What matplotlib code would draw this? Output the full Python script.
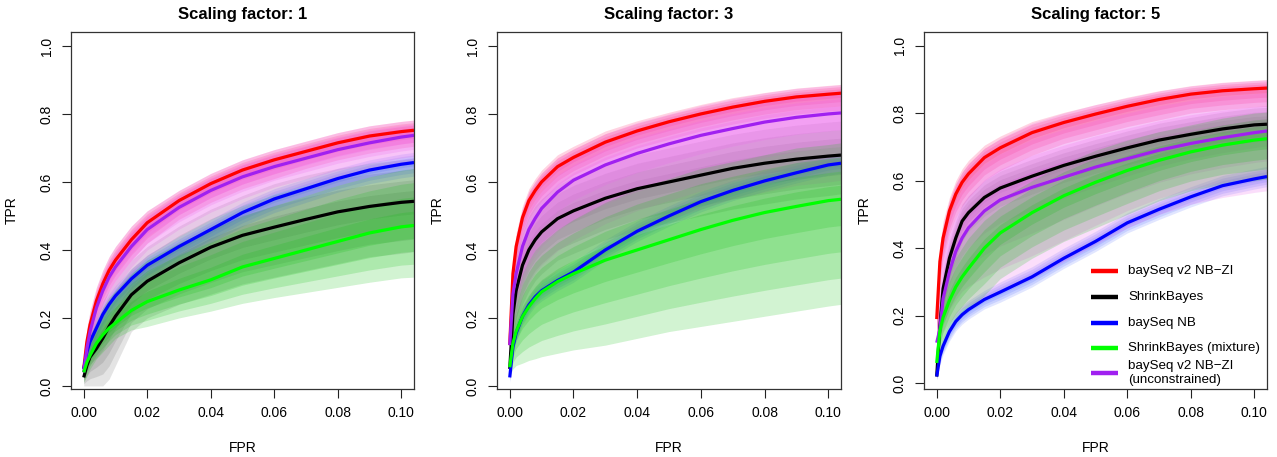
import matplotlib
matplotlib.use("Agg")
import matplotlib.pyplot as plt
import numpy as np

plt.rcParams['font.family'] = ['Liberation Sans', 'DejaVu Sans']

# ---------------- data ----------------
FPR = [0, 0.001, 0.002, 0.004, 0.006, 0.008, 0.01, 0.015, 0.02, 0.03, 0.04,
       0.05, 0.06, 0.07, 0.08, 0.09, 0.10, 0.104]

TITLES = ["Scaling factor: 1", "Scaling factor: 3", "Scaling factor: 5"]
LABELS = ["baySeq v2 NB\u2212ZI", "ShrinkBayes", "baySeq NB",
          "ShrinkBayes (mixture)", "baySeq v2 NB\u2212ZI\n(unconstrained)"]

# Panel 1 (scaling factor 1)
P1_RED = [0.05, 0.13, 0.18, 0.25, 0.30, 0.34, 0.37, 0.43, 0.48, 0.545, 0.595, 0.635, 0.665, 0.69, 0.715, 0.735, 0.748, 0.752]
P1_RED_LO = [0.03, 0.09, 0.13, 0.19, 0.24, 0.28, 0.31, 0.37, 0.42, 0.49, 0.54, 0.58, 0.61, 0.64, 0.665, 0.685, 0.70, 0.705]
P1_RED_HI = [0.07, 0.17, 0.22, 0.29, 0.34, 0.38, 0.41, 0.47, 0.515, 0.575, 0.625, 0.665, 0.695, 0.72, 0.745, 0.765, 0.778, 0.782]
P1_BLACK = [0.025, 0.06, 0.085, 0.11, 0.14, 0.175, 0.205, 0.268, 0.308, 0.362, 0.408, 0.443, 0.467, 0.49, 0.512, 0.528, 0.54, 0.543]
P1_BLACK_LO = [0.0, 0.0, 0.0, 0.0, 0.0, 0.02, 0.06, 0.16, 0.2, 0.24, 0.27, 0.30, 0.32, 0.34, 0.36, 0.38, 0.39, 0.395]
P1_BLACK_HI = [0.06, 0.12, 0.16, 0.21, 0.25, 0.28, 0.31, 0.37, 0.41, 0.47, 0.52, 0.56, 0.595, 0.62, 0.64, 0.655, 0.665, 0.67]
P1_BLUE = [0.05, 0.10, 0.13, 0.17, 0.21, 0.24, 0.265, 0.315, 0.355, 0.41, 0.46, 0.51, 0.55, 0.58, 0.61, 0.635, 0.652, 0.657]
P1_BLUE_LO = [0.03, 0.07, 0.09, 0.13, 0.17, 0.20, 0.225, 0.275, 0.315, 0.37, 0.42, 0.47, 0.51, 0.54, 0.57, 0.595, 0.612, 0.617]
P1_BLUE_HI = [0.07, 0.13, 0.16, 0.20, 0.24, 0.27, 0.295, 0.345, 0.385, 0.44, 0.49, 0.54, 0.58, 0.61, 0.64, 0.665, 0.682, 0.687]
P1_PURPLE = [0.04, 0.11, 0.16, 0.23, 0.28, 0.32, 0.35, 0.41, 0.46, 0.525, 0.575, 0.615, 0.645, 0.67, 0.695, 0.715, 0.732, 0.737]
P1_PURPLE_LO = [0.02, 0.06, 0.10, 0.16, 0.20, 0.24, 0.27, 0.33, 0.38, 0.44, 0.49, 0.53, 0.565, 0.59, 0.615, 0.635, 0.65, 0.655]
P1_PURPLE_HI = [0.07, 0.17, 0.22, 0.29, 0.34, 0.38, 0.41, 0.47, 0.515, 0.575, 0.625, 0.665, 0.695, 0.72, 0.745, 0.765, 0.778, 0.782]
P1_GREEN = [0.04, 0.07, 0.09, 0.125, 0.15, 0.17, 0.185, 0.222, 0.248, 0.282, 0.312, 0.35, 0.375, 0.40, 0.425, 0.45, 0.468, 0.472]
P1_GREEN_LO = [0.01, 0.03, 0.05, 0.08, 0.10, 0.12, 0.14, 0.165, 0.175, 0.20, 0.22, 0.243, 0.26, 0.275, 0.29, 0.305, 0.318, 0.32]
P1_GREEN_HI = [0.07, 0.12, 0.15, 0.19, 0.23, 0.26, 0.28, 0.33, 0.37, 0.42, 0.46, 0.50, 0.53, 0.56, 0.59, 0.615, 0.635, 0.64]

# Panel 2 (scaling factor 3)
P2_RED = [0.12, 0.33, 0.41, 0.495, 0.545, 0.575, 0.60, 0.645, 0.672, 0.717, 0.75, 0.777, 0.80, 0.82, 0.837, 0.85, 0.858, 0.861]
P2_RED_LO = [0.08, 0.27, 0.35, 0.44, 0.49, 0.52, 0.545, 0.59, 0.62, 0.665, 0.70, 0.725, 0.75, 0.77, 0.787, 0.80, 0.808, 0.811]
P2_RED_HI = [0.15, 0.37, 0.45, 0.53, 0.58, 0.61, 0.635, 0.68, 0.705, 0.75, 0.78, 0.805, 0.828, 0.848, 0.863, 0.876, 0.884, 0.887]
P2_BLACK = [0.05, 0.21, 0.28, 0.355, 0.40, 0.43, 0.453, 0.492, 0.515, 0.552, 0.58, 0.60, 0.62, 0.64, 0.655, 0.667, 0.676, 0.679]
P2_BLACK_LO = [0.02, 0.11, 0.17, 0.24, 0.28, 0.31, 0.33, 0.37, 0.39, 0.43, 0.46, 0.48, 0.50, 0.52, 0.535, 0.55, 0.56, 0.565]
P2_BLACK_HI = [0.09, 0.30, 0.38, 0.45, 0.50, 0.53, 0.55, 0.59, 0.615, 0.65, 0.68, 0.70, 0.72, 0.74, 0.755, 0.767, 0.776, 0.779]
P2_BLUE = [0.025, 0.115, 0.155, 0.205, 0.238, 0.262, 0.28, 0.31, 0.335, 0.40, 0.455, 0.50, 0.542, 0.575, 0.603, 0.627, 0.65, 0.655]
P2_BLUE_LO = [0.01, 0.09, 0.13, 0.18, 0.21, 0.235, 0.25, 0.28, 0.305, 0.37, 0.425, 0.47, 0.512, 0.545, 0.573, 0.597, 0.62, 0.625]
P2_BLUE_HI = [0.04, 0.14, 0.18, 0.23, 0.265, 0.29, 0.31, 0.34, 0.365, 0.43, 0.485, 0.53, 0.572, 0.605, 0.633, 0.657, 0.68, 0.685]
P2_PURPLE = [0.12, 0.27, 0.33, 0.41, 0.46, 0.493, 0.522, 0.57, 0.605, 0.65, 0.684, 0.712, 0.737, 0.757, 0.776, 0.79, 0.80, 0.803]
P2_PURPLE_LO = [0.05, 0.12, 0.16, 0.21, 0.25, 0.28, 0.30, 0.34, 0.37, 0.42, 0.46, 0.49, 0.52, 0.55, 0.57, 0.59, 0.60, 0.605]
P2_PURPLE_HI = [0.15, 0.36, 0.44, 0.52, 0.57, 0.60, 0.625, 0.67, 0.697, 0.742, 0.775, 0.80, 0.825, 0.845, 0.862, 0.875, 0.883, 0.886]
P2_GREEN = [0.055, 0.125, 0.16, 0.204, 0.233, 0.257, 0.277, 0.307, 0.33, 0.37, 0.40, 0.43, 0.46, 0.487, 0.51, 0.528, 0.545, 0.549]
P2_GREEN_LO = [0.03, 0.05, 0.06, 0.067, 0.075, 0.08, 0.086, 0.096, 0.106, 0.12, 0.14, 0.16, 0.175, 0.19, 0.205, 0.22, 0.235, 0.24]
P2_GREEN_HI = [0.08, 0.20, 0.26, 0.33, 0.37, 0.40, 0.42, 0.46, 0.49, 0.54, 0.58, 0.61, 0.64, 0.66, 0.68, 0.70, 0.71, 0.715]

# Panel 3 (scaling factor 5)
P3_RED = [0.19, 0.36, 0.43, 0.51, 0.56, 0.595, 0.62, 0.668, 0.697, 0.742, 0.772, 0.797, 0.82, 0.84, 0.856, 0.866, 0.872, 0.874]
P3_RED_LO = [0.13, 0.29, 0.36, 0.44, 0.49, 0.525, 0.55, 0.60, 0.63, 0.675, 0.71, 0.735, 0.76, 0.78, 0.80, 0.81, 0.818, 0.82]
P3_RED_HI = [0.23, 0.41, 0.48, 0.55, 0.60, 0.635, 0.66, 0.705, 0.732, 0.775, 0.802, 0.825, 0.847, 0.866, 0.881, 0.891, 0.897, 0.899]
P3_BLACK = [0.02, 0.17, 0.28, 0.37, 0.43, 0.48, 0.505, 0.55, 0.578, 0.613, 0.645, 0.672, 0.697, 0.72, 0.737, 0.753, 0.765, 0.767]
P3_BLACK_LO = [0.01, 0.11, 0.22, 0.31, 0.37, 0.42, 0.45, 0.495, 0.525, 0.56, 0.595, 0.622, 0.647, 0.67, 0.687, 0.703, 0.715, 0.717]
P3_BLACK_HI = [0.04, 0.22, 0.33, 0.42, 0.48, 0.53, 0.555, 0.60, 0.628, 0.663, 0.695, 0.722, 0.747, 0.77, 0.787, 0.803, 0.815, 0.817]
P3_BLUE = [0.02, 0.08, 0.11, 0.153, 0.183, 0.203, 0.218, 0.248, 0.27, 0.315, 0.37, 0.42, 0.475, 0.515, 0.552, 0.585, 0.605, 0.612]
P3_BLUE_LO = [0.01, 0.055, 0.085, 0.125, 0.155, 0.175, 0.19, 0.22, 0.24, 0.285, 0.34, 0.39, 0.445, 0.485, 0.522, 0.555, 0.575, 0.582]
P3_BLUE_HI = [0.03, 0.10, 0.135, 0.18, 0.21, 0.23, 0.245, 0.275, 0.30, 0.345, 0.40, 0.45, 0.505, 0.545, 0.582, 0.615, 0.635, 0.642]
P3_PURPLE = [0.12, 0.16, 0.25, 0.33, 0.39, 0.43, 0.46, 0.51, 0.543, 0.58, 0.61, 0.64, 0.665, 0.69, 0.71, 0.727, 0.742, 0.747]
P3_PURPLE_LO = [0.10, 0.12, 0.15, 0.18, 0.20, 0.22, 0.23, 0.25, 0.27, 0.31, 0.36, 0.41, 0.46, 0.50, 0.53, 0.55, 0.565, 0.57]
P3_PURPLE_HI = [0.22, 0.39, 0.46, 0.54, 0.59, 0.625, 0.65, 0.695, 0.725, 0.77, 0.80, 0.825, 0.845, 0.865, 0.88, 0.89, 0.896, 0.898]
P3_GREEN = [0.06, 0.155, 0.195, 0.245, 0.285, 0.315, 0.34, 0.40, 0.445, 0.505, 0.555, 0.595, 0.63, 0.66, 0.685, 0.705, 0.72, 0.724]
P3_GREEN_LO = [0.04, 0.08, 0.11, 0.15, 0.18, 0.20, 0.22, 0.26, 0.31, 0.37, 0.42, 0.46, 0.50, 0.54, 0.57, 0.59, 0.60, 0.605]
P3_GREEN_HI = [0.08, 0.24, 0.30, 0.36, 0.40, 0.43, 0.46, 0.51, 0.545, 0.60, 0.65, 0.69, 0.72, 0.745, 0.765, 0.785, 0.80, 0.803]

PANELS = [
    [(P1_RED, P1_RED_LO, P1_RED_HI), (P1_BLACK, P1_BLACK_LO, P1_BLACK_HI),
     (P1_BLUE, P1_BLUE_LO, P1_BLUE_HI), (P1_PURPLE, P1_PURPLE_LO, P1_PURPLE_HI),
     (P1_GREEN, P1_GREEN_LO, P1_GREEN_HI)],
    [(P2_RED, P2_RED_LO, P2_RED_HI), (P2_BLACK, P2_BLACK_LO, P2_BLACK_HI),
     (P2_BLUE, P2_BLUE_LO, P2_BLUE_HI), (P2_PURPLE, P2_PURPLE_LO, P2_PURPLE_HI),
     (P2_GREEN, P2_GREEN_LO, P2_GREEN_HI)],
    [(P3_RED, P3_RED_LO, P3_RED_HI), (P3_BLACK, P3_BLACK_LO, P3_BLACK_HI),
     (P3_BLUE, P3_BLUE_LO, P3_BLUE_HI), (P3_PURPLE, P3_PURPLE_LO, P3_PURPLE_HI),
     (P3_GREEN, P3_GREEN_LO, P3_GREEN_HI)],
]

# drawing order of methods: red, black, blue, purple, green
LINE_COLORS = ["#FF0000", "#000000", "#0000FF", "#A020F0", "#00FF00"]
BAND_COLORS = ["#FF1060", "#505050", "#3050FF", "#EE66EE", "#10C010"]
BAND_ALPHA = [0.18, 0.15, 0.14, 0.21, 0.19]
# legend: red, black, blue, green, purple
LEGEND_METHODS = [0, 1, 2, 4, 3]
LEGEND_ROWS_PX = [271, 297, 323, 348, 373]

YLIMS = [(-0.009, 1.041), (-0.009, 1.041), (-0.017, 1.040)]
AX_LEFT = [71, 497, 924]
AX_W = [343, 344, 343]
AX_TOP, AX_BOTTOM = 32, 389
W, H = 1277, 457

fig = plt.figure(figsize=(W / 100, H / 100), dpi=100)
x = np.array(FPR)
NL = 4
for p in range(3):
    ax = fig.add_axes([AX_LEFT[p] / W, 1 - AX_BOTTOM / H, AX_W[p] / W, (AX_BOTTOM - AX_TOP) / H])
    for m, (med, lo, hi) in enumerate(PANELS[p]):
        med = np.array(med); lo = np.array(lo); hi = np.array(hi)
        for k in range(NL):
            f = (k + 1) / NL
            ax.fill_between(x, med - f * (med - lo), med + f * (hi - med),
                            color=BAND_COLORS[m], alpha=BAND_ALPHA[m], lw=0)
        ax.plot(x, med, color=LINE_COLORS[m], lw=2.3, solid_capstyle='butt',
                solid_joinstyle='round')
    ax.set_xlim(-0.004, 0.104)
    ax.set_ylim(*YLIMS[p])
    ax.set_xticks([0, 0.02, 0.04, 0.06, 0.08, 0.10])
    ax.set_xticklabels(["0.00", "0.02", "0.04", "0.06", "0.08", "0.10"])
    ax.set_yticks([0, 0.2, 0.4, 0.6, 0.8, 1.0])
    ax.set_yticklabels(["0.0", "0.2", "0.4", "0.6", "0.8", "1.0"], rotation=90, va='center')
    ax.tick_params(direction='out', length=6.5, width=0.8, labelsize=10, pad=6, color='#222222')
    for s in ax.spines.values():
        s.set_linewidth(0.9)
        s.set_color('#333333')
    ax.set_title(TITLES[p], fontsize=12, fontweight='bold', pad=9)
    ax.set_xlabel("FPR", fontsize=10, labelpad=15)
    ax.set_ylabel("TPR", fontsize=10, labelpad=15)
    if p == 2:
        # legend as in the original: no frame, two-line last entry centred on its row
        axw = AX_W[p]; axh = AX_BOTTOM - AX_TOP
        x0 = (1091 - AX_LEFT[p]) / axw
        x1 = (1118 - AX_LEFT[p]) / axw
        xt = (1128 - AX_LEFT[p]) / axw
        for m, lab, ypx in zip(LEGEND_METHODS, LABELS, LEGEND_ROWS_PX):
            yf = (AX_BOTTOM - ypx) / axh
            ax.plot([x0, x1], [yf, yf], transform=ax.transAxes, color=LINE_COLORS[m],
                    lw=3.2, solid_capstyle='butt', clip_on=False)
            ax.text(xt, yf, lab, transform=ax.transAxes, fontsize=9.6,
                    ha='left', va='center', linespacing=1.3)

fig.savefig("out.png", dpi=100)
